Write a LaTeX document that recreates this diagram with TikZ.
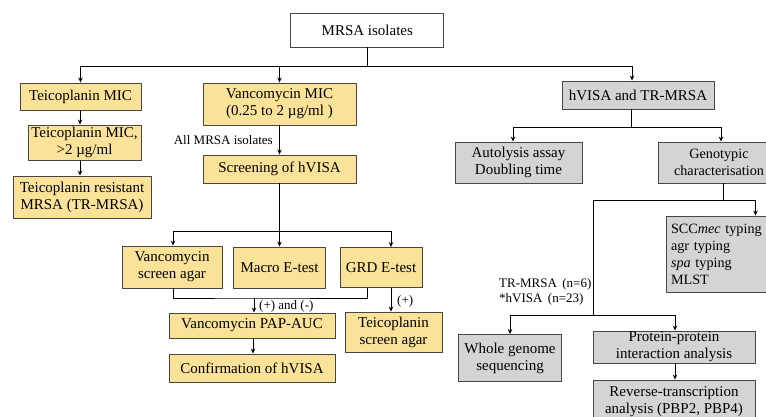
\documentclass[tikz,border=0pt]{standalone}
\usepackage{fontspec}
\setmainfont{Liberation Serif}
\usepackage{xcolor}
\usepackage{tikz}
\usetikzlibrary{arrows.meta}
\definecolor{boxyel}{RGB}{250,226,152}
\definecolor{boxgry}{RGB}{212,212,212}
\definecolor{boxedge}{RGB}{70,70,70}

\begin{document}
\begin{tikzpicture}[x=1pt,y=-1pt,
  font=\fontsize{15}{17}\selectfont,
  box/.style={draw=boxedge,line width=.9pt,inner sep=0pt,align=center},
  wbox/.style={box,fill=white},
  ybox/.style={box,fill=boxyel},
  gbox/.style={box,fill=boxgry},
  edgebox/.style={gbox,font=\fontsize{14.2}{17}\selectfont},
  lnk/.style={line width=.9pt},
  arr/.style={lnk,-{Stealth[length=5pt,width=4.5pt]}},
  note/.style={font=\fontsize{13}{14.5}\selectfont,inner sep=0pt}]
 \useasboundingbox (0,0) rectangle (766,417);
 % boxes
 \node[wbox,minimum width=153,minimum height=34] (isol) at (367.3,30) {MRSA isolates};
 \node[ybox,minimum width=121,minimum height=27] (tmic) at (80.5,96.5) {Teicoplanin MIC};
 \node[ybox,minimum width=113,minimum height=35] (tmicb) at (84.5,142.5) {Teicoplanin MIC,\\ >2 µg/ml};
 \node[ybox,minimum width=138,minimum height=42] (tres) at (82,197) {Teicoplanin resistant\\ MRSA (TR-MRSA)};
 \node[ybox,minimum width=153,minimum height=42] (vmic) at (279.5,104) {Vancomycin MIC\\ (0.25 to 2 µg/ml )};
 \node[ybox,minimum width=153,minimum height=28] (scrn) at (279.5,169) {Screening of hVISA};
 \node[ybox,minimum width=100,minimum height=42] (vsa) at (172,267) {Vancomycin\\ screen agar};
 \node[ybox,minimum width=92,minimum height=41] (metest) at (279.5,267.5) {Macro E-test};
 \node[ybox,minimum width=82,minimum height=40] (grd) at (381,267.5) {GRD E-test};
 \node[ybox,minimum width=166,minimum height=25] (pap) at (252,325.5) {Vancomycin PAP-AUC};
 \node[ybox,minimum width=166,minimum height=28] (conf) at (252,368) {Confirmation of hVISA};
 \node[ybox,minimum width=97,minimum height=40] (tsa) at (393.5,332) {Teicoplanin\\ screen agar};
 \node[gbox,minimum width=152,minimum height=28] (hvisa) at (638,95) {hVISA and TR-MRSA};
 \node[gbox,minimum width=127,minimum height=41] (auto) at (518.5,162.5) {Autolysis assay\\ Doubling time};
 \node[edgebox,minimum width=122,minimum height=41] (geno) at (719,162.5) {Genotypic\\ characterisation};
 \node[edgebox,minimum width=134,minimum height=76,align=left,text width=124,inner sep=4pt] (scc) at (733,254)
  {SCC\textit{mec} typing\\ agr typing\\ \textit{spa} typing\\ MLST};
 \node[gbox,minimum width=103,minimum height=47] (wgs) at (510,358) {Whole genome\\ sequencing};
 \node[gbox,minimum width=162,minimum height=32] (ppi) at (674,347) {Protein-protein\\ interaction analysis};
 \node[gbox,minimum width=162,minimum height=44] (rt) at (674,402) {Reverse-transcription\\ analysis (PBP2, PBP4)};
 % junctions
 \coordinate (topbus) at (367.3,66);
 \coordinate (vbus) at (279.5,231);
 \coordinate (merge) at (254,298);
 \coordinate (rbus) at (631,127);
 \coordinate (gbus) at (723,200);
 \coordinate (split) at (593,200);
 \coordinate (seqbus) at (593,315);
 % connectors
 \draw[lnk] (isol.south) -- (topbus);
 \draw[arr] (topbus) -| (tmic.north);
 \draw[arr] (topbus) -| (vmic.north);
 \draw[arr] (topbus) -| (hvisa.north -| 632,0);
 \draw[arr] (tmic.south -| 80,0) -- (tmicb.north -| 80,0);
 \draw[arr] (tmicb.south -| 80,0) -- (tres.north -| 80,0);
 \draw[arr] (vmic.south) -- (scrn.north);
 \draw[lnk] (scrn.south) -- (vbus);
 \draw[arr] (vbus) -| (vsa.north -| 173,0);
 \draw[arr] (vbus) -- (metest.north);
 \draw[arr] (vbus) -| (grd.north -| 391,0);
 \draw[lnk] (vsa.south -| 173,0) |- (merge) -| (grd.south -| 367.5,0);
 \draw[arr] (merge) -- (pap.north -| merge);
 \draw[arr] (pap.south -| 253,0) -- (conf.north -| 253,0);
 \draw[arr] (grd.south -| 391,0) -- (tsa.north -| 391,0);
 \draw[lnk] (hvisa.south -| rbus) -- (rbus);
 \draw[arr] (rbus) -| (auto.north -| 513,0);
 \draw[arr] (rbus) -| (geno.north -| 721,0);
 \draw[lnk] (geno.south -| gbus) -- (gbus);
 \draw[arr] (gbus) -| (scc.north -| 755.5,0);
 \draw[lnk] (gbus) -- (split) -- (seqbus);
 \draw[arr] (seqbus) -| (wgs.north);
 \draw[arr] (seqbus) -| (ppi.north -| 675,0);
 \draw[arr] (ppi.south -| 675,0) -- (rt.north -| 675,0);
 % labels
 \node[note,anchor=east] (allm) at (273,140) {All MRSA isolates};
 \node[note,anchor=west] (pm) at (259,306) {(+) and (-)};
 \node[note,anchor=west] (pl) at (397,301) {(+)};
 \node[note,anchor=west,align=left] (cnt) at (499,292) {TR-MRSA\, (n=6)\\ *hVISA\, (n=23)};
\end{tikzpicture}
\end{document}
